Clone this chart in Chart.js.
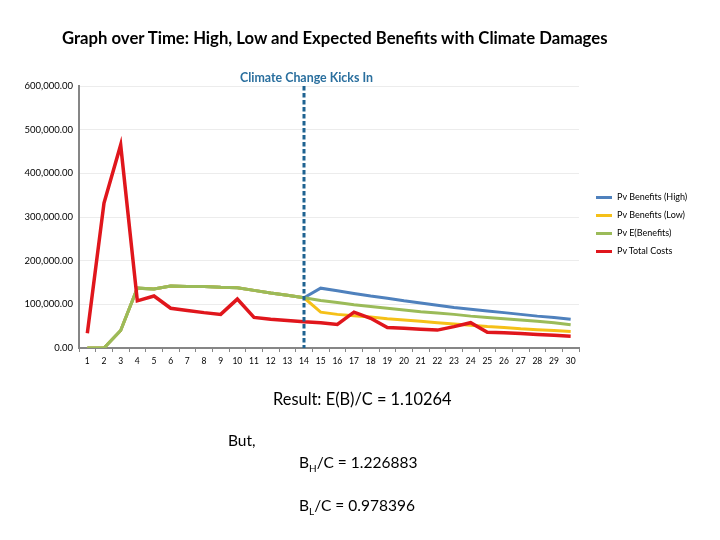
<html><head>
<meta charset="UTF-8">
<title>Benefits with Climate Damages</title>
<script src="https://cdn.jsdelivr.net/npm/chart.js"></script>
<style>
    body {
        margin: 0;
        padding: 0;
        background-color: white;
        font-family: Lato, sans-serif;
        color: #000;
    }
    .page {
        position: relative;
        width: 720px;
        height: 540px;
    }
    .page canvas {
        position: absolute;
        left: 0;
        top: 0;
    }
    .txt {
        position: absolute;
        white-space: nowrap;
    }
    .title {
        left: 62px;
        top: 28px;
        font-size: 16.7px;
        font-weight: bold;
    }
    .kicks {
        left: 240px;
        top: 70px;
        font-size: 12.4px;
        font-weight: bold;
        color: #2a6f9e;
    }
    .result { font-size: 15.5px; }
    sub { font-size: 10px; }
    #legend {
        position: absolute;
        left: 596px;
        top: 190px;
        font-size: 9px;
    }
    #legend div {
        height: 18px;
        line-height: 14px;
        white-space: nowrap;
    }
    #legend span {
        display: inline-block;
        width: 16px;
        height: 3px;
        margin-right: 5px;
        vertical-align: middle;
    }
</style>
</head>
<body>
<div class="page">
    <canvas id="benefitsChart" width="720" height="540"></canvas>
    <div class="txt title">Graph over Time: High, Low and Expected Benefits with Climate Damages</div>
    <div class="txt kicks">Climate Change Kicks In</div>
    <div id="legend"></div>
    <div class="txt result" style="left:273px; top:389px; font-size:16.4px;">Result: E(B)/C = 1.10264</div>
    <div class="txt result" style="left:228px; top:431px;">But,</div>
    <div class="txt result" style="left:299px; top:453px;">B<sub>H</sub>/C = 1.226883</div>
    <div class="txt result" style="left:299px; top:496px;">B<sub>L</sub>/C = 0.978396</div>
</div>
<script>
    // Years 1..30
    const years = ['1','2','3','4','5','6','7','8','9','10','11','12','13','14','15',
                   '16','17','18','19','20','21','22','23','24','25','26','27','28','29','30'];

    const pvBenefitsHigh = [0, 0, 40000, 137000, 135000, 142000, 141000, 141000, 139000, 138000,
        132000, 126000, 121000, 115000, 137000, 131000, 125000, 119000, 114000, 108000,
        103000, 98000, 93000, 89000, 85000, 81000, 77000, 73000, 70000, 66000];

    const pvBenefitsLow = [0, 0, 40000, 137000, 135000, 142000, 141000, 141000, 139000, 138000,
        132000, 126000, 121000, 115000, 82000, 77000, 74000, 71000, 67000, 64000,
        61000, 58000, 55000, 52000, 49000, 47000, 44000, 42000, 40000, 38000];

    const pvExpectedBenefits = [0, 0, 40000, 137000, 135000, 142000, 141000, 141000, 139000, 138000,
        132000, 126000, 121000, 115000, 109000, 104000, 99000, 95000, 91000, 87000,
        83000, 80000, 77000, 73000, 70000, 67000, 64000, 61000, 58000, 53000];

    const pvTotalCosts = [34000, 332000, 465000, 108000, 119000, 91000, 86000, 81000, 77000, 112000,
        70000, 66000, 63000, 60000, 58000, 54000, 82000, 68000, 47000, 45000,
        43000, 41000, 49000, 58000, 36000, 35000, 33000, 31000, 29000, 27000];

    const climateYear = '14';

    // dashed marker where climate change kicks in
    const climateLine = {
        id: 'climateLine',
        afterDatasetsDraw(chart) {
            const ctx = chart.ctx;
            const x = chart.scales.x.getPixelForValue(years.indexOf(climateYear));
            ctx.save();
            ctx.strokeStyle = '#1f6391';
            ctx.lineWidth = 3;
            ctx.setLineDash([4.5, 2.5]);
            ctx.beginPath();
            ctx.moveTo(x, chart.chartArea.top);
            ctx.lineTo(x, chart.chartArea.bottom);
            ctx.stroke();
            ctx.restore();
        }
    };

    const ctx = document.getElementById('benefitsChart').getContext('2d');
    const chart = new Chart(ctx, {
        type: 'line',
        data: {
            labels: years,
            datasets: [
                { label: 'Pv Benefits (High)', data: pvBenefitsHigh, borderColor: '#4f81bd', order: 4 },
                { label: 'Pv Benefits (Low)', data: pvBenefitsLow, borderColor: '#f5c018', order: 3 },
                { label: 'Pv E(Benefits)', data: pvExpectedBenefits, borderColor: '#9bbb59', order: 2 },
                { label: 'Pv Total Costs', data: pvTotalCosts, borderColor: '#e0161c', borderWidth: 3.5, order: 1 }
            ]
        },
        options: {
            responsive: false,
            animation: false,
            layout: { padding: { left: 0, top: 86, right: 141, bottom: 170 } },
            elements: {
                line: { borderWidth: 3, tension: 0 },
                point: { radius: 0 }
            },
            scales: {
                x: {
                    offset: true,
                    grid: { drawOnChartArea: false, drawTicks: true, offset: true, tickLength: 4, color: '#868686' },
                    border: { color: '#868686', width: 2 },
                    ticks: { color: '#000', font: { family: 'Lato', size: 8.5 }, maxRotation: 0, autoSkip: false, padding: 4 },
                    afterFit(scale) { scale.height = 22; }
                },
                y: {
                    min: 0,
                    max: 600000,
                    ticks: {
                        stepSize: 100000,
                        padding: 6,
                        color: '#000',
                        font: { family: 'Lato', size: 9.5 },
                        callback: v => v.toLocaleString('en-US', { minimumFractionDigits: 2, maximumFractionDigits: 2 })
                    },
                    grid: { color: '#ececec', lineWidth: 1, drawTicks: false },
                    border: { color: '#868686', width: 2 },
                    afterFit(scale) { scale.width = 79; }
                }
            },
            plugins: {
                legend: { display: false },
                tooltip: { enabled: false }
            }
        },
        plugins: [climateLine]
    });

    // legend built from the datasets
    const legendBox = document.getElementById('legend');
    chart.data.datasets.forEach(ds => {
        const row = document.createElement('div');
        const swatch = document.createElement('span');
        swatch.style.background = ds.borderColor;
        row.appendChild(swatch);
        row.appendChild(document.createTextNode(ds.label));
        legendBox.appendChild(row);
    });
</script>
</body></html>
